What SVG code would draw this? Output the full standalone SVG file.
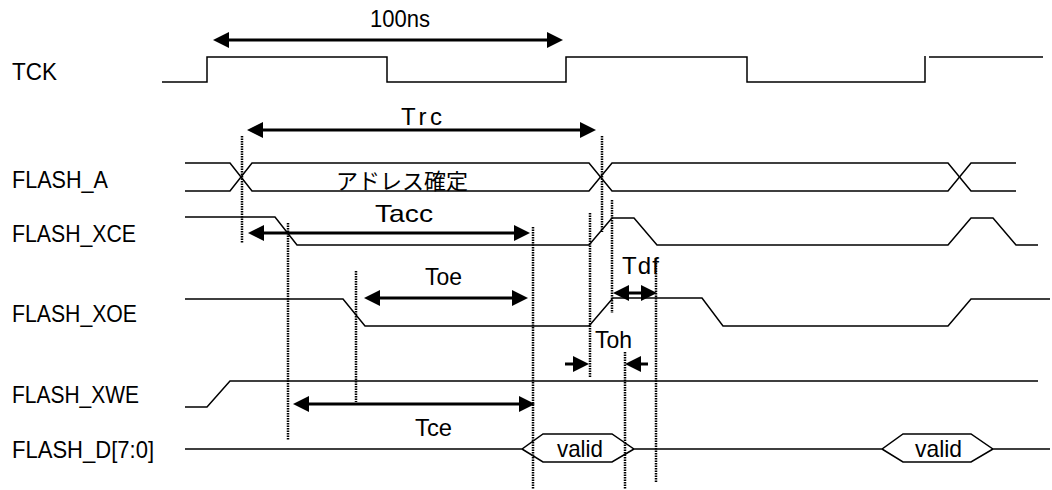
<svg xmlns="http://www.w3.org/2000/svg" width="1052" height="490" viewBox="0 0 1052 490">
<style>
  text { font-family: "Liberation Sans", Arial, "Noto Sans CJK JP", sans-serif; font-size: 24px; fill: #000; }
  .jp { font-size: 22px; }
  .mid { text-anchor: middle; }
  .wave { fill: none; stroke: #000; stroke-width: 1.5; stroke-linejoin: miter; }
  .dot { fill: none; stroke: #000; stroke-width: 2.5; stroke-dasharray: 1.5 1; }
  .arr { fill: none; stroke: #000; stroke-width: 3; marker-start: url(#ah); marker-end: url(#ah); }
  .arr1 { fill: none; stroke: #000; stroke-width: 3; marker-end: url(#ah); }
</style>
<defs>
  <marker id="ah" markerUnits="userSpaceOnUse" markerWidth="16" markerHeight="16" refX="12" refY="8" orient="auto-start-reverse" viewBox="0 0 16 16">
    <path d="M0,0 L16,8 L0,16 Z" fill="#000"/>
  </marker>
</defs>
<rect width="1052" height="490" fill="#fff"/>

<g id="TCK">
  <text x="12" y="80" textLength="45" lengthAdjust="spacingAndGlyphs">TCK</text>
  <path class="wave" d="M162,82 H207 V57 H387 V82 H566 V57 H747 V82 H925 V56"/>
  <path class="wave" d="M929,57 H1043"/>
</g>
<g id="FLASH_A">
  <text x="12" y="188" textLength="96" lengthAdjust="spacingAndGlyphs">FLASH_A</text>
  <path class="wave" d="M185,163 H230 L252,191 H589 L612,163 H948 L971,191 H1016"/>
  <path class="wave" d="M185,191 H230 L252,163 H589 L612,191 H948 L971,163 H1016"/>
  <text class="jp mid" x="402" y="189">アドレス確定</text>
</g>
<g id="FLASH_XCE">
  <text x="12" y="242" textLength="124" lengthAdjust="spacingAndGlyphs">FLASH_XCE</text>
  <path class="wave" d="M185,217 H275 L297,245 H589 L612,218 H634 L657,245 H948 L971,218 H993 L1016,245 H1038"/>
</g>
<g id="FLASH_XOE">
  <text x="12" y="322" textLength="125" lengthAdjust="spacingAndGlyphs">FLASH_XOE</text>
  <path class="wave" d="M185,299 H343 L365,326 H589 L613,298 H702 L723,326 H948 L971,299 H1050"/>
</g>
<g id="FLASH_XWE">
  <text x="12" y="403" textLength="127" lengthAdjust="spacingAndGlyphs">FLASH_XWE</text>
  <path class="wave" d="M185,407 H207 L230,381 H1038"/>
</g>
<g id="FLASH_D">
  <text x="12" y="458" textLength="142" lengthAdjust="spacingAndGlyphs">FLASH_D[7:0]</text>
  <path class="wave" d="M185,449 H522 L543,434 H612 L634,449 H882 L903,434 H971 L993,449 H1050"/>
  <path class="wave" d="M522,449 L543,462 H612 L634,449 M882,449 L903,462 H971 L993,449"/>
  <text x="557" y="457" textLength="46" lengthAdjust="spacingAndGlyphs">valid</text>
  <text x="915" y="457" textLength="47" lengthAdjust="spacingAndGlyphs">valid</text>
</g>

<g id="connectors">
  <line class="dot" x1="242" y1="136" x2="242" y2="243"/>
  <line class="dot" x1="288" y1="223" x2="288" y2="440"/>
  <line class="dot" x1="356" y1="271" x2="356" y2="402"/>
  <line class="dot" x1="533" y1="227" x2="533" y2="489"/>
  <line class="dot" x1="602" y1="136" x2="602" y2="232"/>
  <line class="dot" x1="590" y1="213" x2="590" y2="378"/>
  <line class="dot" x1="612" y1="200" x2="612" y2="313"/>
  <line class="dot" x1="656" y1="258" x2="656" y2="483"/>
  <line class="dot" x1="625" y1="352" x2="625" y2="489"/>

  <line class="arr" x1="217" y1="40" x2="559" y2="40"/>
  <line class="arr" x1="251" y1="130" x2="592" y2="130"/>
  <line class="arr" x1="252" y1="233" x2="526" y2="233"/>
  <line class="arr" x1="368" y1="298" x2="524" y2="298"/>
  <line class="arr" x1="617" y1="293" x2="653" y2="293"/>
  <line class="arr" x1="297" y1="404" x2="531" y2="404"/>
  <line class="arr1" x1="565" y1="364" x2="585" y2="364"/>
  <line class="arr1" x1="648" y1="364" x2="629" y2="364"/>

  <text x="370" y="27" textLength="60" lengthAdjust="spacingAndGlyphs">100ns</text>
  <text x="401" y="125" textLength="41" lengthAdjust="spacing">Trc</text>
  <text x="375" y="222" textLength="58" lengthAdjust="spacingAndGlyphs">Tacc</text>
  <text x="425" y="285" textLength="37" lengthAdjust="spacingAndGlyphs">Toe</text>
  <text x="622" y="274" textLength="37" lengthAdjust="spacing">Tdf</text>
  <text x="595" y="348" textLength="37" lengthAdjust="spacingAndGlyphs">Toh</text>
  <text x="415" y="436" textLength="37" lengthAdjust="spacingAndGlyphs">Tce</text>
</g>
</svg>
